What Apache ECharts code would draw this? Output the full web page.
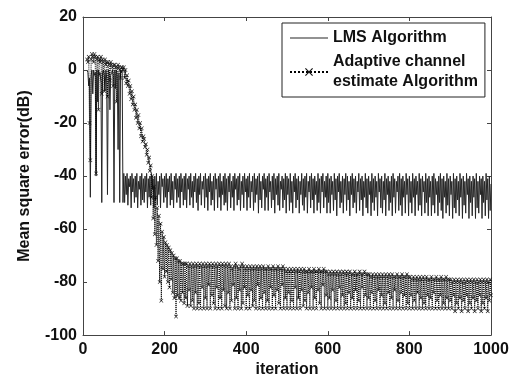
<!DOCTYPE html>
<html>
<head>
<meta charset="utf-8">
<script src="https://cdn.jsdelivr.net/npm/echarts@6/dist/echarts.min.js"></script>
<style>
  html, body { margin: 0; padding: 0; background: #fff; }
  #chart { width: 516px; height: 383px; }
</style>
</head>
<body>
<div id="chart"></div>
<script>
// iterations sampled every 2 steps, starting at 10
const iterStart = 10;
const iterStep = 2;

// LMS Algorithm, mean square error in dB
const lmsMse = [
  0, -1, -6, -3, -48, -2, 0, -9, 0, -2, -1, -40, 0, -12, 0, -2, -1, -5, -50, -1,                    // 10-48
  0, -2, -8, 0, -3, -47, 0, -1, -15, -2, -1, 0, -2, -50, 0, -7, 0, -2, -30, -1, -50, 0, -1, 0, -50, // 50-98
  -39, -50, -40, -47, -39, -51, -41, -44, -40, -52, -39, -46, -41, -50, -40, -48, -39, -52, -42, -45, -40, -51, -39, -49, -41, // 100
  -50, -40, -46, -39, -52, -41, -48, -40, -51, -39, -45, -41, -52, -40, -49, -39, -51, -42, -47, -40, -52, -39, -44, -41, -50, // 150
  -40, -48, -39, -52, -41, -46, -40, -51, -39, -49, -42, -52, -40, -45, -39, -50, -41, -48, -40, -52, -39, -46, -41, -51, -40, // 200
  -49, -39, -52, -41, -45, -40, -51, -39, -48, -42, -52, -40, -46, -39, -50, -41, -53, -40, -47, -39, -51, -42, -45, -40, -52, // 250
  -39, -48, -41, -53, -40, -46, -39, -51, -42, -49, -40, -53, -39, -45, -41, -52, -40, -48, -39, -53, -42, -47, -40, -51, -39, // 300
  -50, -41, -53, -40, -46, -39, -52, -42, -48, -40, -53, -39, -45, -41, -51, -40, -49, -39, -53, -42, -47, -40, -52, -39, -46, // 350
  -41, -53, -40, -48, -39, -52, -42, -46, -40, -53, -39, -50, -41, -47, -40, -54, -39, -49, -42, -52, -40, -45, -39, -53, -41, // 400
  -48, -40, -53, -39, -46, -42, -52, -40, -49, -39, -54, -41, -47, -40, -51, -39, -53, -42, -45, -40, -52, -41, -49, -39, -54, // 450
  -40, -47, -41, -53, -39, -50, -42, -54, -40, -46, -39, -52, -41, -49, -40, -54, -42, -47, -39, -51, -41, -53, -40, -48, -39, // 500
  -54, -42, -46, -40, -52, -39, -49, -41, -54, -40, -47, -42, -53, -39, -50, -41, -54, -40, -46, -39, -52, -42, -48, -40, -54, // 550
  -39, -50, -41, -54, -40, -47, -42, -53, -39, -49, -41, -55, -40, -46, -39, -52, -42, -50, -40, -54, -41, -47, -39, -53, -40, // 600
  -49, -42, -55, -40, -47, -39, -52, -41, -50, -40, -54, -42, -46, -39, -53, -41, -49, -40, -55, -42, -48, -39, -52, -41, -54, // 650
  -40, -47, -42, -55, -39, -50, -41, -53, -40, -48, -42, -55, -39, -46, -41, -52, -40, -54, -42, -49, -39, -55, -41, -47, -40, // 700
  -53, -42, -50, -40, -55, -39, -48, -41, -54, -42, -46, -40, -53, -39, -51, -41, -55, -40, -48, -42, -54, -39, -47, -41, -55, // 750
  -40, -50, -42, -54, -39, -48, -41, -55, -40, -47, -42, -53, -39, -51, -41, -55, -40, -46, -42, -54, -39, -50, -41, -55, -40, // 800
  -48, -42, -55, -40, -51, -39, -54, -41, -47, -42, -55, -40, -50, -39, -53, -41, -56, -40, -48, -42, -54, -39, -51, -41, -55, // 850
  -40, -47, -42, -56, -39, -52, -41, -54, -40, -49, -42, -55, -39, -48, -41, -56, -40, -51, -42, -54, -39, -47, -41, -56, -40, // 900
  -50, -42, -55, -40, -48, -41, -56, -39, -52, -42, -54, -40, -47, -41, -56, -40, -50, -42, -55, -39, -49, -41, -56, -40, -53, // 950
  -43                                                                                                                          // 1000
];

// Adaptive channel estimate Algorithm
const adaptiveMse = [
  4, 3, 5, -20, -34, 4, 6, 5, 3, 6, 5, -39, 4, 5, -15, 4, 3, 5, -9, 4,                              // 10-48
  3, -8, 4, 2, 3, -10, 3, 2, -4, 3, 2, 1, -6, 2, 2, 1, -12, 1, 2, 1, 0, -3, 1, 1, 0,                // 50-98
  1, -3, 0, -5, -2, -6, -4, -9, -6, -11, -8, -13, -10, -15, -13, -18, -15, -20, -17, -22, -20, -25, -22, -27, -25, // 100
  -26, -29, -28, -32, -30, -35, -33, -38, -36, -48, -40, -56, -44, -62, -48, -66, -52, -72, -55, -80, -58, -87, -61, -75, -63, // 150
  -78, -65, -76, -66, -80, -67, -82, -68, -79, -69, -84, -70, -86, -71, -93, -71, -85, -72, -86, -72, -87, -73, -84, -73, -88, // 200
  -73, -86, -73, -89, -74, -83, -73, -89, -74, -87, -73, -90, -74, -84, -73, -90, -74, -88, -73, -90, -74, -82, -73, -90, -74, // 250
  -86, -73, -90, -74, -81, -73, -90, -74, -85, -73, -88, -74, -90, -73, -82, -74, -90, -73, -86, -74, -90, -73, -83, -74, -89, // 300
  -73, -90, -74, -84, -73, -90, -74, -87, -75, -81, -74, -90, -73, -86, -74, -90, -75, -83, -74, -90, -73, -88, -74, -82, -75, // 350
  -90, -74, -85, -75, -90, -74, -83, -75, -89, -74, -87, -75, -90, -74, -81, -75, -90, -74, -86, -75, -90, -74, -84, -75, -90, // 400
  -75, -87, -74, -90, -75, -82, -75, -90, -74, -85, -75, -90, -75, -83, -74, -88, -75, -90, -75, -81, -74, -90, -75, -86, -76, // 450
  -90, -75, -84, -76, -90, -75, -87, -76, -90, -75, -82, -76, -90, -75, -86, -76, -90, -75, -83, -76, -89, -75, -87, -76, -90, // 500
  -76, -84, -75, -90, -76, -82, -76, -90, -75, -86, -76, -90, -76, -83, -75, -88, -76, -90, -76, -81, -75, -90, -76, -85, -76, // 550
  -90, -77, -86, -76, -90, -77, -83, -76, -90, -77, -87, -76, -90, -77, -82, -76, -90, -77, -85, -76, -90, -77, -88, -76, -90, // 600
  -77, -84, -76, -90, -77, -86, -77, -90, -76, -83, -77, -90, -77, -87, -76, -90, -77, -82, -77, -90, -76, -85, -77, -90, -77, // 650
  -86, -77, -90, -78, -84, -77, -90, -78, -87, -77, -90, -78, -83, -77, -90, -78, -85, -77, -90, -78, -88, -77, -90, -78, -84, // 700
  -77, -90, -78, -86, -77, -90, -78, -83, -78, -90, -77, -87, -78, -90, -78, -84, -77, -90, -78, -85, -78, -90, -77, -88, -78, // 750
  -90, -78, -85, -79, -90, -78, -87, -79, -90, -78, -84, -79, -90, -78, -86, -79, -90, -78, -88, -79, -90, -78, -85, -79, -90, // 800
  -79, -86, -78, -90, -79, -84, -79, -90, -78, -87, -79, -90, -79, -85, -78, -90, -79, -88, -79, -90, -78, -86, -79, -90, -79, // 850
  -87, -79, -90, -80, -85, -79, -91, -80, -88, -79, -90, -80, -86, -79, -91, -80, -87, -79, -90, -80, -85, -79, -91, -80, -88, // 900
  -79, -90, -80, -86, -79, -91, -80, -87, -79, -90, -80, -85, -79, -91, -80, -88, -79, -90, -80, -86, -79, -91, -80, -87, -79, // 950
  -85                                                                                                                          // 1000
];

const seriesNames = ["LMS Algorithm", "Adaptive channel\nestimate Algorithm"];

const toPairs = (arr) => arr.map((v, i) => [iterStart + i * iterStep, v]);

const font = "'Liberation Sans', Arial, sans-serif";
const xMark = "path://M0,1L1,0L5,4L9,0L10,1L6,5L10,9L9,10L5,6L1,10L0,9L4,5Z";
const solidIcon = "path://M0,0L38,0L38,1.2L0,1.2Z";

const chart = echarts.init(document.getElementById("chart"));

const axisCommon = {
  axisLine: { show: true, onZero: false, lineStyle: { color: "#444", width: 1 } },
  axisTick: { show: true, inside: true, length: 4, lineStyle: { color: "#444" } },
  splitLine: { show: false },
};
const labelStyle = { fontFamily: font, fontSize: 16, fontWeight: "bold", color: "#111" };

chart.setOption({
  animation: false,
  backgroundColor: "#fff",
  textStyle: { fontFamily: font },
  grid: { left: 83, right: 25, top: 17, bottom: 43 },
  legend: {
    left: 282,
    top: 23,
    orient: "vertical",
    backgroundColor: "#fff",
    borderColor: "#222",
    borderWidth: 1,
    borderRadius: 0,
    padding: [5, 7, 5, 7],
    itemWidth: 38,
    itemHeight: 10,
    itemGap: 4,
    textStyle: { ...labelStyle, lineHeight: 20 },
    data: [
      { name: seriesNames[0], icon: solidIcon },
      { name: seriesNames[1] },
    ],
  },
  xAxis: [
    {
      ...axisCommon,
      type: "value",
      position: "bottom",
      min: 0,
      max: 1000,
      interval: 200,
      name: "iteration",
      nameLocation: "middle",
      nameGap: 26,
      nameTextStyle: labelStyle,
      axisLabel: { ...labelStyle, margin: 6, formatter: (v) => String(v) },
    },
    {
      ...axisCommon,
      type: "value",
      position: "top",
      min: 0,
      max: 1000,
      interval: 200,
      axisLabel: { show: false },
    },
  ],
  yAxis: [
    {
      ...axisCommon,
      type: "value",
      position: "left",
      min: -100,
      max: 20,
      interval: 20,
      name: "Mean square error(dB)",
      nameLocation: "middle",
      nameGap: 50,
      nameTextStyle: labelStyle,
      axisLabel: { ...labelStyle, margin: 6 },
    },
    {
      ...axisCommon,
      type: "value",
      position: "right",
      min: -100,
      max: 20,
      interval: 20,
      axisLabel: { show: false },
    },
  ],
  series: [
    {
      name: seriesNames[0],
      type: "line",
      data: toPairs(lmsMse),
      symbol: "none",
      lineStyle: { color: "#262626", width: 1 },
      itemStyle: { color: "#262626" },
      z: 2,
    },
    {
      name: seriesNames[1],
      type: "line",
      data: toPairs(adaptiveMse),
      symbol: xMark,
      symbolSize: 4,
      showSymbol: true,
      lineStyle: { color: "#000", width: 1, type: "dotted" },
      itemStyle: { color: "#111" },
      z: 3,
    },
  ],
});
</script>
</body>
</html>
